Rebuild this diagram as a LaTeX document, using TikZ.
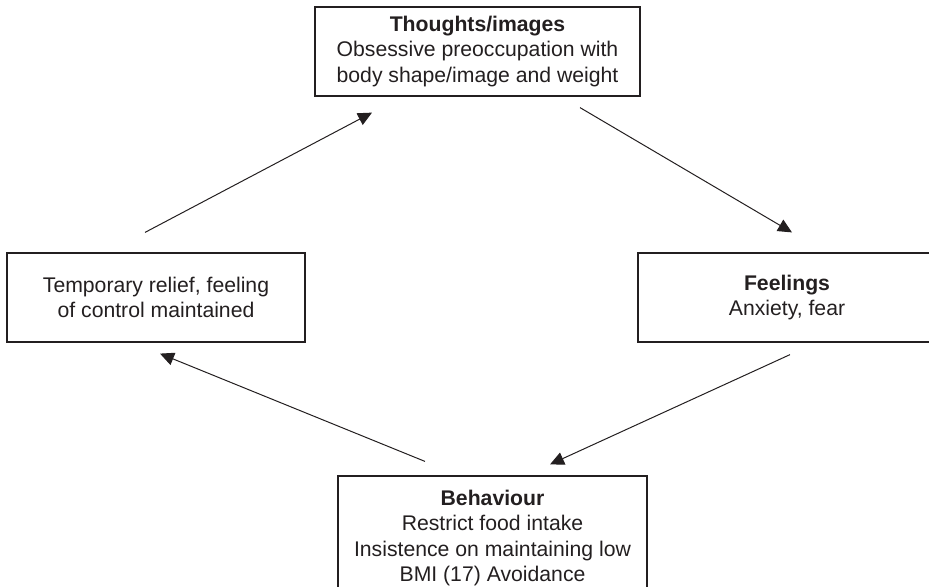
\documentclass[tikz,border=0pt]{standalone}
\usepackage{fontspec}
\setmainfont{Liberation Sans}
\usepackage{tikz}
\usetikzlibrary{arrows.meta}
\definecolor{InkGrey}{HTML}{231F20}

\begin{document}
\begin{tikzpicture}[
            x=0.5pt, y=-0.5pt,
            box/.style={draw=InkGrey, line width=0.6pt, text=InkGrey, align=center, inner sep=2pt, font=\fontsize{10.6}{12.6}\selectfont},
            arrow/.style={-{Triangle[length=7pt, width=6.5pt]}, line width=0.5pt, InkGrey}
        ]
            \useasboundingbox (0,0) rectangle (929,586);
            
            \node[box, minimum width=162.5pt, minimum height=44.5pt] (thoughts) at (477.5,51.5) {
                \textbf{Thoughts/images} \\ Obsessive preoccupation with \\ body shape/image and weight
            };
            
            \node[box, minimum width=149pt, minimum height=44.5pt] (relief) at (156,297.5) {
                Temporary relief, feeling \\ of control maintained
            };
            
            \node[box, minimum width=149pt, minimum height=44.5pt] (feelings) at (787,297.5) {
                \textbf{Feelings} \\ Anxiety, fear
            };
            
            \node[box, minimum width=154.5pt, minimum height=62pt] (behaviour) at (492.5,538) {
                \textbf{Behaviour} \\ Restrict food intake \\ Insistence on maintaining low \\ BMI (17) Avoidance
            };
            
            \draw[arrow] ([shift={(-11,-20)}]relief.north) -- ([shift={(-105.5,16)}]thoughts.south);
            \draw[arrow] ([shift={(102.5,11)}]thoughts.south) -- ([shift={(5,-20)}]feelings.north);
            \draw[arrow] ([shift={(3,12)}]feelings.south) -- ([shift={(57.5,-11)}]behaviour.north);
            \draw[arrow] ([shift={(-67.5,-14)}]behaviour.north) -- ([shift={(4,11)}]relief.south);
            
        \end{tikzpicture}
\end{document}
